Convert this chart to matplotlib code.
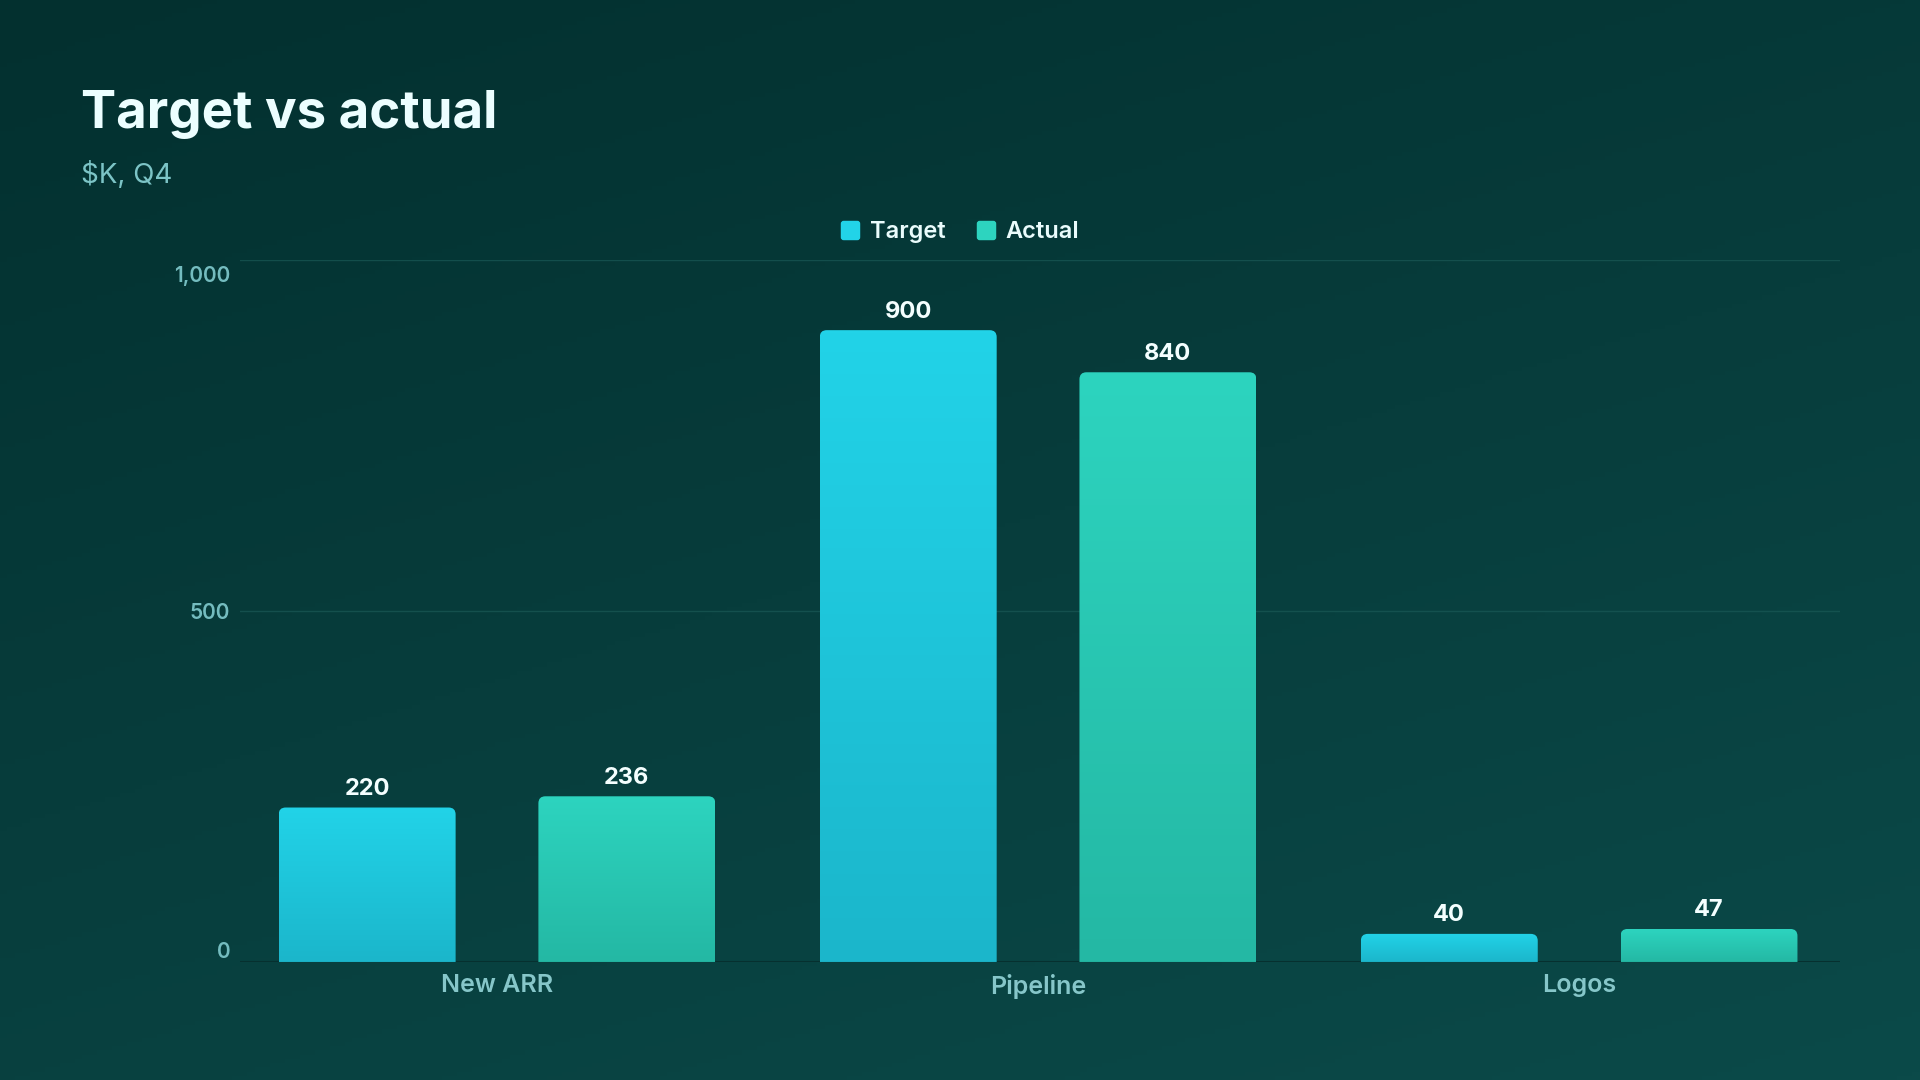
import numpy as np
import matplotlib.pyplot as plt
import matplotlib.transforms as mtransforms
from matplotlib.path import Path
from matplotlib.patches import PathPatch
from matplotlib.colors import LinearSegmentedColormap
from matplotlib.lines import Line2D

# Data
categories = ['New ARR', 'Pipeline', 'Logos']
target = [220, 900, 40]
actual = [236, 840, 47]
y_ticks = [0, 500, 1000]
y_tick_labels = ['0', '500', '1,000']

plt.rcParams['font.family'] = ['Inter', 'DejaVu Sans']

fig = plt.figure(figsize=(19.2, 10.8), dpi=100)

# background: diagonal dark-teal gradient
bg = fig.add_axes([0, 0, 1, 1], zorder=-10)
gx, gy = np.meshgrid(np.linspace(0, 1, 256), np.linspace(0, 1, 256))
bg_cmap = LinearSegmentedColormap.from_list('bg', ['#03302f', '#0b4a49'])
bg.imshow(gx * 0.35 + gy * 0.65, cmap=bg_cmap, aspect='auto',
          extent=[0, 1, 0, 1], origin='upper')
bg.axis('off')

ax = fig.add_axes([0.125, 0.1093, 0.8333, 0.65])
ax.patch.set_alpha(0)
xlim = (-0.475, 2.482)
ylim = (0, 1000)

x = np.arange(len(categories))
offset, width = 0.24, 0.327
bars_t = ax.bar(x - offset, target, width, color='none', edgecolor='none')
bars_a = ax.bar(x + offset, actual, width, color='none', edgecolor='none')

# rounded top corners, radius given in pixels
ax_w_px = 0.8333 * 1920
ax_h_px = 0.65 * 1080
rx = 7 / (ax_w_px / (xlim[1] - xlim[0]))
ry = 7 / (ax_h_px / (ylim[1] - ylim[0]))

cmap_t = LinearSegmentedColormap.from_list('t', ['#1bb6cb', '#22d3e8'])
cmap_a = LinearSegmentedColormap.from_list('a', ['#24b8a4', '#2dd4bf'])
grad = np.linspace(0, 1, 200).reshape(-1, 1)


def gradient_bar(rect, cmap):
    x0, y0 = rect.get_x(), rect.get_y()
    x1, y1 = x0 + rect.get_width(), y0 + rect.get_height()
    verts = [(x0, y0), (x0, y1 - ry), (x0, y1), (x0 + rx, y1),
             (x1 - rx, y1), (x1, y1), (x1, y1 - ry), (x1, y0), (x0, y0)]
    codes = [Path.MOVETO, Path.LINETO, Path.CURVE3, Path.CURVE3,
             Path.LINETO, Path.CURVE3, Path.CURVE3, Path.LINETO, Path.CLOSEPOLY]
    patch = PathPatch(Path(verts, codes), facecolor='none', edgecolor='none',
                      transform=ax.transData)
    ax.add_patch(patch)
    im = ax.imshow(grad, cmap=cmap, aspect='auto', origin='lower',
                   extent=[x0, x1, y0, y1], zorder=2)
    im.set_clip_path(patch)


for bars, cmap in [(bars_t, cmap_t), (bars_a, cmap_a)]:
    for rect in bars:
        gradient_bar(rect, cmap)
        ax.annotate(f'{rect.get_height():.0f}',
                    (rect.get_x() + rect.get_width() / 2, rect.get_height()),
                    textcoords='offset points', xytext=(0, 9), ha='center',
                    va='baseline', fontsize=17, fontweight='bold', color='#f4ffff')

ax.set_xlim(*xlim)
ax.set_ylim(*ylim)

# grid and axes styling
for s in ax.spines.values():
    s.set_visible(False)
ax.yaxis.grid(True, color='#1a5956', lw=1, alpha=0.7)
ax.set_axisbelow(True)
ax.axhline(0, color='#06302f', lw=1.5, zorder=1)

ax.set_yticks(y_ticks, y_tick_labels)
ax.set_xticks(x, categories)
ax.tick_params(length=0)
ax.tick_params(axis='y', pad=7, labelsize=15, labelcolor='#74bcbf')
ax.tick_params(axis='x', pad=9, labelsize=18, labelcolor='#86c6c9')
for lbl in ax.get_yticklabels():
    lbl.set_fontweight('semibold')
for lbl in ax.get_xticklabels():
    lbl.set_fontweight('semibold')
ylbls = ax.get_yticklabels()
ylbls[0].set_va('bottom')
ylbls[-1].set_va('top')
ylbls[-1].set_transform(ylbls[-1].get_transform() +
                        mtransforms.ScaledTranslation(0, -4 / 72, fig.dpi_scale_trans))

# title & subtitle
fig.text(81 / 1920, 1 - 128 / 1080, 'Target vs actual', fontsize=38,
         fontweight='bold', color='#ecfeff', va='baseline')
fig.text(81 / 1920, 1 - 183 / 1080, '$K, Q4', fontsize=20,
         color='#7cc4c6', va='baseline', parse_math=False)

# legend with rounded-square markers
rs = Path([(-1, -0.7), (-1, 0.7), (-1, 1), (-0.7, 1), (0.7, 1), (1, 1), (1, 0.7),
           (1, -0.7), (1, -1), (0.7, -1), (-0.7, -1), (-1, -1), (-1, -0.7), (-1, -0.7)],
          [Path.MOVETO, Path.LINETO, Path.CURVE3, Path.CURVE3, Path.LINETO,
           Path.CURVE3, Path.CURVE3, Path.LINETO, Path.CURVE3, Path.CURVE3,
           Path.LINETO, Path.CURVE3, Path.CURVE3, Path.CLOSEPOLY])
handles = [Line2D([], [], marker=rs, linestyle='none', markersize=14,
                  markerfacecolor=c, markeredgewidth=0)
           for c in ['#22d3e8', '#2dd4bf']]
leg = fig.legend(handles, ['Target', 'Actual'], loc='center',
                 bbox_to_anchor=(0.5, 1 - 232 / 1080), ncol=2, frameon=False,
                 fontsize=17, handlelength=0.8, handletextpad=0.45,
                 columnspacing=1.3, labelcolor='#eafcfc')
for t in leg.get_texts():
    t.set_fontweight('semibold')

fig.savefig('out.png', dpi=100)
